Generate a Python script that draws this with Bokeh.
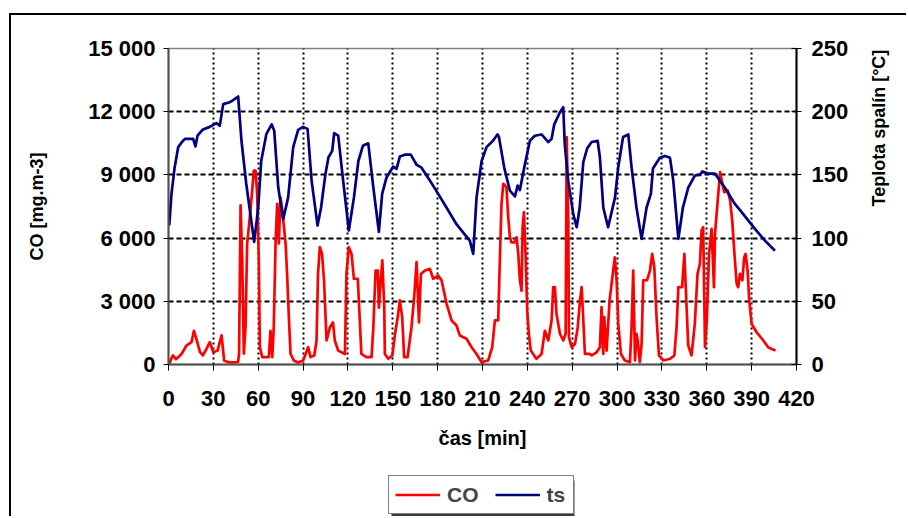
import math
from bokeh.plotting import figure
from bokeh.layouts import column
from bokeh.models import (Range1d, LinearAxis, FixedTicker, Legend, LegendItem,
                          BoxAnnotation)
from bokeh.embed import file_html
from bokeh.resources import INLINE

# ---- data ----
t_co = [0.5, 2, 3, 5, 8.7, 12, 15.4, 17, 18.7, 21, 23, 25.4, 27.6, 30, 32.8, 35.5,
        37.2, 40, 43, 46.5, 47.2, 48.2, 49.3, 50.4, 51.5, 52.6, 53.7, 54.8, 57.1,
        58.2, 59.3, 60.4, 61.1, 62.7, 67.1, 68.2, 69.4, 70.4, 71.6, 72.7, 73.8,
        74.9, 76.1, 78.3, 79.4, 80.5, 81.6, 83.8, 86.7, 90, 93.4, 95, 97.5, 99,
        100, 101.2, 102.7, 104, 105.7, 108, 110, 111.2, 113.5, 118, 119, 120.6,
        122.4, 124, 126.6, 129, 132.4, 135.8, 137, 138.5, 140, 140.7, 142, 143,
        144.3, 144.7, 147, 149.7, 151.5, 153.3, 154.7, 156.3, 157.6, 159.9, 162.5,
        164.3, 165.9, 167.5, 168.8, 171.5, 174.8, 177, 180.4, 182.6, 186, 189.3,
        192.6, 194.8, 199.3, 202.7, 206, 209.4, 213.8, 216.5, 218.3, 220.5, 221.6,
        222.7, 223.9, 226, 227.2, 228.3, 229.4, 231.7, 232.8, 233.9, 235, 236.1,
        236.8, 237.7, 238.8, 239.9, 241, 242.3, 246, 249.5, 251.7, 254, 256.2,
        257.3, 258.4, 259.5, 261.8, 264, 265.6, 266.3, 267.4, 267.8, 269.6, 271.9,
        273.7, 275.2, 276.3, 277, 278.5, 281.8, 283, 286.3, 288.5, 289.6, 290.8,
        291.4, 293, 295, 297.4, 298.5, 299.7, 300.8, 302.6, 305.2, 308.6, 309.7,
        310.8, 312, 313, 313.8, 315.2, 316.4, 317.5, 320, 322, 323.5, 324.9, 326.4,
        328, 331, 335.4, 338.3, 339.8, 341, 343.5, 345, 346.5, 347.6, 349.8, 352,
        353.8, 355.4, 356.5, 357.6, 358.8, 360, 361.5, 363.2, 364.8, 365.5, 367.3,
        368.9, 370, 371.7, 374, 375.6, 377, 378.5, 380, 381, 382.2, 383.8, 385,
        386, 387.3, 388.4, 390, 393.3, 397.8, 401, 403.4, 406]
co = [30, 300, 430, 250, 500, 900, 1060, 1600, 1200, 600, 430, 740, 1060, 580, 660, 1380,
      190, 110, 100, 120, 520, 7550, 4940, 520, 1770, 5730, 6500, 7300, 9200,
      9200, 8100, 4940, 820, 350, 350, 1600, 350, 1770, 5750, 7630, 5750,
      7940, 7320, 5750, 4150, 2250, 510, 190, 100, 180, 820, 350, 430, 1140,
      4300, 5570, 5250, 4000, 1140, 1770, 2000, 1140, 660, 500, 4300, 5570,
      5250, 4070, 4070, 500, 350, 350, 1770, 4460, 4460, 2700, 4000, 4940,
      2720, 500, 270, 430, 1460, 2250, 3040, 2250, 350, 350, 1770,
      3200, 4860, 2000, 4300, 4460, 4540, 4070, 4220, 4000, 2880, 2090,
      1850, 1380, 1220, 820, 500, 110, 190, 820, 2090, 2090, 4940,
      7630, 8580, 8420, 7000, 6050, 5800, 5800, 6040, 5250, 4000, 3500,
      6520, 7230, 5250, 2540, 1460, 660, 270, 500, 1600, 1140, 2090,
      3670, 3670, 2400, 1460, 1140, 1460, 10790, 6800, 1300, 820, 980,
      1770, 3040, 3670, 2720, 500, 500, 430, 580, 820, 2720, 500,
      2250, 660, 3040, 4460, 5090, 4000, 1930, 500, 190, 110, 1770,
      4460, 190, 1460, 1140, 110, 980, 4000, 4000, 4460, 5250, 4620, 2250,
      430, 190, 270, 430, 1770, 3670, 3670, 5250, 2720, 900, 430, 1930,
      4300, 4780, 6360, 6520, 820, 2090, 5250, 6440, 3670, 6200, 7780,
      9130, 8730, 8180, 8260, 7780, 6840, 5250, 3830, 3670, 4300, 4000, 5090,
      5250, 4460, 3040, 1930, 1530, 1140, 820, 740, 660]

t_ts = [0.5, 2, 4, 6.5, 9, 11, 16.5, 18, 19.4, 23, 27.6, 32, 34.3, 36.6, 41, 43, 46.6,
        48.8, 52, 54.4, 57.3, 60, 62, 65.5, 69, 70.7, 73.4, 76.7, 80, 83.4, 86.7,
        90, 93, 95.7, 99.7, 102, 105, 107, 109.5, 110.8, 113.5, 116.8, 120.6, 124,
        127, 130, 133.6, 137, 140.7, 142.9, 145.8, 150.3, 152.5, 154.7, 158, 162,
        165.9, 169, 174.8, 180.4, 186, 192.6, 197, 201.5, 203.8, 206, 209.4, 212.7,
        217, 220, 221, 224.5, 228.3, 231.7, 233.5, 235, 238.4, 241.7, 245, 249.5,
        254, 256.2, 258, 261.8, 264, 265, 267.3, 270.7, 273, 275, 277.4, 280, 283,
        287, 288.5, 290.8, 294, 298.6, 300.8, 304, 307.5, 309.7, 313, 316.4, 319.7,
        322.6, 324, 328.6, 332, 335.4, 337.6, 341, 344, 347.6, 352, 355.4, 357, 361,
        365.5, 372, 378.8, 383.3, 392.2, 398.9, 405.6]
ts = [110, 135, 155, 172, 176, 178.5, 178.5, 172.5, 181, 186, 188, 191, 189, 206, 207.5,
      209, 212, 177, 143, 122, 97, 124, 161, 182.5, 190, 185, 140, 115, 132, 172,
      185.6, 188, 186.4, 145.5, 110, 124, 151, 164, 169, 183, 181, 145.5, 106, 132,
      161, 173, 175, 140, 105, 135, 148, 156.6, 154.8, 164.5, 166, 166, 158, 156,
      145.5, 135, 124, 111, 104.6, 98, 87.5, 132, 161, 172, 177, 182, 180, 156,
      137.6, 133, 141.6, 138, 158.7, 177, 181, 182, 176, 178.5, 190, 199.6, 203.5,
      174.6, 145.5, 119, 108.6, 124, 160, 171, 176, 177, 164, 124, 108.6, 132, 156,
      180, 182, 156, 124, 99.4, 124, 135, 155, 163.5, 165, 163.5, 145.5, 99.4, 124,
      140, 149.5, 150, 152.7, 151, 151, 140, 127, 120.5, 107.3, 98, 90]

x_ticks = [0, 30, 60, 90, 120, 150, 180, 210, 240, 270, 300, 330, 360, 390, 420]
co_ticks = [0, 3000, 6000, 9000, 12000, 15000]
co_tick_labels = ["0", "3 000", "6 000", "9 000", "12 000", "15 000"]
ts_ticks = [0, 50, 100, 150, 200, 250]

FONT = "Liberation Sans"
CO_COLOR = "#FF0000"
TS_COLOR = "#000080"

# ---------------- main chart ----------------
p = figure(width=906, height=470, output_backend="svg", toolbar_location=None,
           x_range=Range1d(0, 420), y_range=Range1d(0, 15000),
           min_border_left=168, min_border_right=110, min_border_top=48,
           min_border_bottom=106)
# outer chart border (left and top edges visible in the reference)
p.border_fill_alpha = 0
p.styles = {"box-shadow": "inset 9px 13px 0 0 white, inset 11px 15px 0 0 black"}
p.extra_y_ranges = {"ts": Range1d(0, 250)}
p.outline_line_color = "#808080"
p.outline_line_width = 1.5

p.xgrid.ticker = FixedTicker(ticks=x_ticks)
p.xgrid.grid_line_color = "black"
p.xgrid.grid_line_width = 2
p.xgrid.grid_line_dash = "2 3"
p.ygrid.ticker = FixedTicker(ticks=co_ticks)
p.ygrid.grid_line_color = "black"
p.ygrid.grid_line_width = 2
p.ygrid.grid_line_dash = "5 3"

def style_axis(ax):
    ax.major_label_text_font = FONT
    ax.major_label_text_font_style = "bold"
    ax.major_label_text_font_size = "22px"
    ax.major_label_text_color = "black"
    ax.axis_label_text_font = FONT
    ax.axis_label_text_font_style = "bold"
    ax.axis_label_text_color = "black"
    ax.minor_tick_line_color = None
    ax.major_tick_line_color = "black"

xa = p.xaxis[0]
style_axis(xa)
xa.ticker = FixedTicker(ticks=x_ticks)
xa.axis_label = "čas [min]"
xa.axis_label_text_font_size = "20px"
xa.major_tick_in = 0
xa.major_tick_out = 6
xa.major_label_standoff = 20
xa.axis_label_standoff = 18
xa.axis_line_color = "#505050"
xa.axis_line_width = 2

ya = p.yaxis[0]
style_axis(ya)
ya.ticker = FixedTicker(ticks=co_ticks)
ya.major_label_overrides = {t: l for t, l in zip(co_ticks, co_tick_labels)}
ya.axis_label = "CO [mg.m-3]"
ya.axis_label_text_font_size = "18px"
ya.major_tick_in = 0
ya.major_tick_out = 5
ya.major_label_standoff = 8
ya.axis_label_standoff = 38
ya.axis_line_color = "#505050"
ya.axis_line_width = 2

ra = LinearAxis(y_range_name="ts", ticker=FixedTicker(ticks=ts_ticks),
                axis_label="Teplota spalín [°C]")
style_axis(ra)
ra.axis_label_text_font_size = "18px"
ra.axis_label_orientation = math.pi / 2
ra.major_tick_in = 5
ra.major_tick_out = 5
ra.major_label_standoff = 10
ra.axis_label_standoff = 28
ra.axis_line_color = "black"
ra.axis_line_width = 2
p.add_layout(ra, "right")

p.line(t_co, co, line_color=CO_COLOR, line_width=2.7, line_join="round")
p.line(t_ts, ts, line_color=TS_COLOR, line_width=2.7, line_join="round",
       y_range_name="ts")

# ---------------- legend strip below the chart ----------------
lg = figure(width=906, height=46, output_backend="svg", toolbar_location=None,
            x_range=Range1d(0, 1), y_range=Range1d(0, 1),
            x_axis_location=None, y_axis_location=None,
            min_border_left=0, min_border_right=0, min_border_top=0,
            min_border_bottom=0)
lg.grid.visible = False
lg.outline_line_color = None
lg.border_fill_alpha = 0
lg.background_fill_alpha = 0
lg.styles = {"box-shadow": "inset 9px 0 0 0 white, inset 11px 0 0 0 black"}

# key renderers (their points lie outside the strip's range, only the legend shows them)
k_co = lg.line([2, 3], [2, 3], line_color=CO_COLOR, line_width=2.7)
k_ts = lg.line([2, 3], [2, 3], line_color=TS_COLOR, line_width=2.7)

shadow = BoxAnnotation(left=391, right=574, top=10, bottom=60,
                       left_units="canvas", right_units="canvas",
                       top_units="canvas", bottom_units="canvas",
                       fill_color="#3a3a3a", fill_alpha=1, line_alpha=0)
lg.add_layout(shadow)

legend = Legend(items=[LegendItem(label="CO", renderers=[k_co]),
                       LegendItem(label="ts", renderers=[k_ts])],
                orientation="horizontal", location=(220, 2))
legend.label_text_font = FONT
legend.label_text_font_style = "bold"
legend.label_text_font_size = "21px"
legend.glyph_width = 45
legend.glyph_height = 25
legend.label_standoff = 7
legend.spacing = 16
legend.padding = 6
legend.margin = 0
legend.border_line_color = "black"
legend.border_line_width = 1
legend.background_fill_color = "white"
legend.background_fill_alpha = 1
lg.add_layout(legend, "center")

layout = column(p, lg, spacing=0)
open("out.html", "w").write(file_html(layout, INLINE))
